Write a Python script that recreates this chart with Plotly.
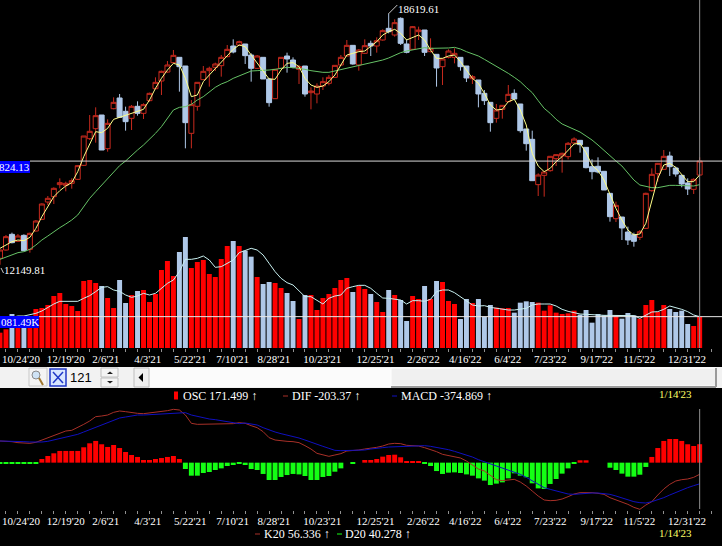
#!/usr/bin/env python3
"""Weekly candles with volume, plus the MACD panel, on a black trading-screen background."""
import plotly.graph_objects as go

W, H = 722, 546

# weekly prices, 5 and 20 period averages
open_ = [12315, 12530, 12934, 12754, 12908, 12547, 13020, 13321, 13768, 13906, 14216, 14198, 14250, 14353, 14714, 15402, 15660, 16013, 15144, 16176,
         16452, 16108, 15927, 16237, 16056, 16383, 16692, 16890, 17122, 17363, 17501, 17277, 15540, 16237, 16925, 17157, 17243, 17286, 17518, 17793,
         17819, 17845, 17561, 17217, 17501, 16942, 16434, 17217, 17535, 17432, 17191, 17277, 16589, 16555, 16761, 16830, 16985, 17303, 17535, 17810,
         17303, 17604, 17862, 17793, 17948, 18249, 18077, 18507, 17845, 17707, 18163, 18206, 17647, 17578, 17260, 17501, 17501, 17501, 17277, 16950,
         16916, 16572, 16340, 15927, 16159, 16357, 16572, 16297, 15652, 15385, 14216, 14456, 14577, 14886, 14955, 14938, 15291, 15359, 15179, 14680,
         14689, 14560, 13992, 13338, 13381, 12994, 12926, 12857, 13089, 14061, 14499, 14611, 14955, 14646, 14456, 14259, 14095, 14465]
close_ = [12530, 12874, 12719, 12891, 12513, 12960, 13278, 13717, 13863, 14121, 14267, 14250, 14319, 14706, 15471, 15592, 15996, 15110, 15798, 16340,
          15953, 15841, 16237, 16056, 16280, 16572, 16856, 17140, 17303, 17552, 17260, 15815, 16280, 16856, 17140, 17217, 17329, 17501, 17707, 17638,
          17905, 17544, 17217, 17535, 16942, 16331, 17191, 17501, 17458, 17243, 17260, 16555, 16632, 16761, 16873, 16985, 17294, 17501, 17810, 17329,
          17690, 17802, 17793, 17931, 18189, 18163, 18395, 17862, 17630, 18292, 18206, 17630, 17733, 17226, 17458, 17664, 17604, 17260, 16968, 17002,
          16555, 16383, 15815, 16142, 16262, 16546, 16426, 15609, 15273, 14319, 14465, 14542, 14947, 14990, 15024, 15282, 15394, 15248, 14654, 14551,
          14542, 14078, 13390, 13682, 13098, 12788, 12754, 13003, 13992, 14482, 14766, 14947, 14680, 14491, 14233, 14104, 14353, 14824.13]
high = [12530, 12917, 12977, 12943, 12934, 12977, 13304, 13734, 13923, 14147, 14379, 14293, 14379, 14723, 15471, 16013, 16211, 16013, 15901, 16469,
        16555, 16228, 16271, 16366, 16314, 16589, 16985, 17157, 17406, 17690, 17501, 17277, 16400, 16856, 17277, 17260, 17363, 17561, 17819, 17965,
        17931, 17845, 17604, 17561, 17501, 16959, 17191, 17501, 17621, 17501, 17303, 17277, 16727, 16830, 16985, 17045, 17303, 17561, 17948, 17810,
        17716, 17965, 17931, 18017, 18223, 18619.61, 18481, 18533, 17965, 18309, 18292, 18206, 17991, 17578, 17475, 17707, 17733, 17501, 17277, 17045,
        16916, 16658, 16340, 16297, 16262, 16787, 16675, 16297, 15652, 15609, 14508, 14560, 14947, 14990, 15041, 15316, 15437, 15359, 15179, 14869,
        14921, 14560, 13992, 13777, 13381, 13132, 12977, 13046, 14009, 14637, 14775, 15110, 15067, 14680, 14456, 14379, 14379, 14921]
low = [12149.81, 12513, 12702, 12736, 12513, 12461, 13003, 13304, 13691, 13717, 14121, 14044, 14112, 14336, 14697, 15368, 15299, 15110, 15067, 16159,
       15936, 15609, 15626, 15996, 15910, 16357, 16675, 16529, 17105, 17346, 16615, 15153, 15153, 16125, 16916, 16744, 17148, 17002, 17501, 17604,
       17793, 17329, 16873, 17200, 16942, 16228, 16434, 17217, 17105, 17217, 16813, 16486, 16159, 16314, 16658, 16778, 16976, 17277, 17518, 17312,
       17157, 17587, 17535, 17621, 17931, 18120, 18034, 17819, 17604, 17690, 17948, 17535, 17630, 16744, 16787, 17475, 17346, 17157, 16864, 16813,
       16211, 16271, 15583, 15815, 15918, 16340, 16400, 15557, 15093, 14319, 13923, 13906, 14551, 14697, 14525, 14869, 15273, 15041, 14637, 14353,
       14508, 14078, 13261, 13252, 12788, 12659, 12616, 12788, 13072, 14035, 14293, 14594, 14439, 14422, 14147, 13949, 13975, 14448]
ma_short = [12573, 12659, 12745, 12788, 12771, 12857, 13089, 13390, 13648, 13906, 14061, 14181, 14267, 14551, 14938, 15282, 15583, 15557, 15669, 15901,
            15953, 15987, 16056, 16108, 16159, 16400, 16701, 16959, 17174, 17346, 17303, 16959, 16486, 16529, 16873, 17045, 17217, 17389, 17561, 17707,
            17819, 17776, 17561, 17346, 17131, 16942, 16933, 17174, 17346, 17363, 17260, 16959, 16787, 16727, 16761, 16873, 17045, 17303, 17561, 17604,
            17647, 17664, 17776, 17905, 18077, 18163, 18223, 18120, 17948, 18017, 18077, 17948, 17690, 17475, 17475, 17535, 17561, 17389, 17174, 16959,
            16830, 16572, 16271, 16142, 16159, 16357, 16417, 16142, 15755, 15024, 14697, 14551, 14637, 14809, 14938, 15093, 15265, 15282, 15041, 14723,
            14577, 14336, 13949, 13605, 13304, 13046, 12917, 12943, 13218, 13777, 14379, 14723, 14766, 14663, 14465, 14293, 14293, 14465]
ma_long = [12289, 12341, 12401, 12461, 12487, 12547, 12659, 12788, 12891, 13003, 13106, 13201, 13304, 13433, 13648, 13863, 14035, 14207, 14379, 14551,
           14706, 14826, 14981, 15110, 15239, 15385, 15540, 15712, 15927, 16142, 16211, 16228, 16288, 16400, 16486, 16615, 16727, 16813, 16873, 16959,
           17019, 17071, 17148, 17157, 17157, 17174, 17191, 17217, 17243, 17234, 17217, 17191, 17157, 17131, 17114, 17114, 17148, 17191, 17217, 17243,
           17277, 17329, 17363, 17398, 17432, 17484, 17561, 17621, 17664, 17690, 17733, 17750, 17733, 17733, 17733, 17742, 17759, 17716, 17647, 17587,
           17535, 17449, 17363, 17277, 17191, 17088, 16985, 16873, 16727, 16589, 16383, 16185, 16056, 15901, 15781, 15712, 15643, 15574, 15471, 15368,
           15239, 15093, 14955, 14826, 14697, 14508, 14336, 14207, 14164, 14138, 14138, 14173, 14198, 14198, 14198, 14190, 14181, 14216]

# weekly volume (thousands) and its average
volume = [529, 644, 1173, 1081, 736, 989, 1346, 1380, 1484, 1794, 1898, 1518, 1449, 1277, 2312, 2346, 2243, 2139, 1725, 1380,
          2346, 1553, 1829, 1967, 2001, 1587, 1863, 2691, 3002, 2484, 3312, 3830, 2760, 2967, 3036, 2553, 2450, 3071, 3519, 3692,
          3519, 3358, 3151, 2450, 2208, 2277, 2243, 2070, 1898, 1622, 1001, 1829, 1829, 1311, 1725, 1863, 2070, 2346, 2415, 1932,
          2139, 2036, 1863, 1587, 1242, 2001, 1829, 1656, 932, 1794, 1691, 2139, 1691, 2312, 2277, 1622, 1518, 1001, 1691, 1553,
          1691, 1081, 1484, 1392, 1369, 1380, 1219, 1564, 1610, 1587, 1564, 1288, 1472, 1219, 1173, 1196, 1288, 1150, 1311, 874,
          1173, 1127, 1311, 1139, 1012, 1208, 1127, 1012, 1484, 1656, 1242, 1484, 1346, 1242, 1288, 828, 759, 1081.49]
volume_ma = [909, 966, 1058, 1104, 1104, 1139, 1196, 1277, 1403, 1518, 1610, 1610, 1599, 1610, 1714, 1806, 1944, 2093, 2116, 2001,
             1955, 1829, 1748, 1794, 1886, 1829, 1886, 2059, 2231, 2346, 2634, 3059, 3059, 3094, 3174, 3036, 2783, 2806, 2921, 3036,
             3289, 3358, 3439, 3381, 3209, 2921, 2634, 2404, 2254, 2174, 1978, 1771, 1771, 1633, 1518, 1714, 1794, 1829, 2059, 2116,
             2162, 2162, 2059, 1886, 1725, 1714, 1679, 1656, 1518, 1633, 1633, 1610, 1679, 1944, 2001, 2001, 1909, 1771, 1622, 1484,
             1449, 1461, 1403, 1369, 1334, 1311, 1311, 1346, 1369, 1484, 1518, 1518, 1518, 1449, 1334, 1265, 1219, 1173, 1162, 1162,
             1139, 1127, 1127, 1139, 1127, 1139, 1116, 1024, 1139, 1242, 1254, 1334, 1449, 1403, 1334, 1254, 1139, 1081]

# MACD panel
osc = [-6, -6, -6, -6, -6, -6, -6, 34, 62, 87, 109, 109, 109, 109, 143, 180, 202, 171, 146, 164,
       136, 99, 71, 53, 25, 25, 34, 43, 53, 62, 34, -59, -121, -121, -96, -87, -68, -53, -31, -22,
       -6, -22, -59, -68, -105, -161, -161, -133, -115, -105, -109, -124, -161, -161, -133, -124, -84, -53, 0, -6,
       0, 25, 25, 34, 56, 71, 74, 50, 12, 12, 12, -6, -31, -78, -105, -93, -90, -96, -109, -121,
       -146, -167, -208, -195, -183, -146, -99, -121, -136, -192, -239, -245, -198, -152, -102, -53, -6, 22, 22, 0,
       0, 0, -47, -68, -102, -130, -130, -112, -40, 53, 136, 202, 220, 220, 202, 171, 155, 171.499]
dif = [396, 396, 384, 366, 360, 354, 372, 414, 462, 492, 546, 576, 588, 636, 696, 756, 834, 846, 864, 912,
       936, 924, 906, 894, 888, 900, 912, 918, 942, 966, 954, 864, 714, 696, 696, 696, 696, 696, 696, 708,
       726, 714, 672, 636, 564, 456, 414, 396, 390, 384, 366, 312, 252, 174, 144, 120, 144, 168, 216, 222,
       234, 252, 264, 282, 306, 342, 354, 348, 318, 318, 306, 276, 246, 204, 156, 132, 114, 90, 36, -36,
       -108, -144, -228, -300, -318, -306, -294, -342, -414, -504, -594, -666, -678, -672, -648, -606, -558, -534, -528, -534,
       -546, -564, -624, -666, -696, -744, -798, -834, -756, -696, -576, -468, -384, -324, -300, -288, -258, -203.37]
macd = [396, 396, 396, 390, 384, 378, 372, 378, 390, 414, 444, 462, 486, 516, 558, 600, 636, 684, 732, 768,
        810, 828, 852, 864, 864, 870, 876, 882, 894, 906, 912, 906, 864, 840, 810, 792, 780, 762, 744, 726,
        708, 720, 702, 684, 636, 594, 558, 528, 504, 480, 450, 414, 372, 336, 300, 264, 228, 222, 222, 222,
        228, 234, 252, 270, 276, 288, 294, 300, 306, 312, 312, 312, 300, 282, 258, 240, 210, 180, 144, 108,
        60, 24, -12, -60, -96, -132, -168, -204, -258, -318, -390, -444, -474, -504, -528, -558, -564, -552, -540, -540,
        -540, -546, -564, -594, -630, -666, -696, -714, -720, -696, -666, -624, -576, -528, -480, -444, -408, -374.869]

tick_labels = ["10/24'20", "12/19'20", "2/6'21", "4/3'21", "5/22'21", "7/10'21", "8/28'21", "10/23'21",
               "12/25'21", "2/26'22", "4/16'22", "6/4'22", "7/23'22", "9/17'22", "11/5'22", "12/31'22"]
tick_at = [3.5, 11, 17.7, 24.7, 31.8, 38.9, 45.8, 53.9, 62.8, 70.8, 77.8, 84.9, 92, 99.8, 106.9, 114.9]

n = len(close_)
weeks = list(range(n))

FONT = "Liberation Serif"
RED = "#FF0000"
PALE = "#AFC8E8"
bar_colors = [RED if c >= o else PALE for o, c in zip(open_, close_)]
osc_colors = [RED if v > 0 else "#14FF14" for v in osc]


def px(x):
    return x / W


def py(y):
    return 1 - y / H


shapes = []
labels = []


def rect(x0, y0, x1, y1, fill, line=None, lw=1):
    shapes.append(dict(type="rect", xref="paper", yref="paper", x0=px(x0), x1=px(x1), y0=py(y0), y1=py(y1),
                       fillcolor=fill, line=dict(color=line or fill, width=lw if line else 0)))


def seg(x0, y0, x1, y1, color, lw=1):
    shapes.append(dict(type="line", xref="paper", yref="paper", x0=px(x0), x1=px(x1), y0=py(y0), y1=py(y1),
                       line=dict(color=color, width=lw)))


def tri(points, color):
    path = "M " + " L ".join(f"{px(a):.5f},{py(b):.5f}" for a, b in points) + " Z"
    shapes.append(dict(type="path", xref="paper", yref="paper", path=path, fillcolor=color, line=dict(width=0)))


def text(x, y, s, color="#FFFFFF", size=12, anchor="left", family=FONT):
    labels.append(dict(xref="paper", yref="paper", x=px(x), y=py(y), text=s, showarrow=False, xanchor=anchor,
                       yanchor="middle", font=dict(family=family, size=size, color=color), borderpad=0, borderwidth=0))


# toolbar between the two panels
rect(0, 367, 722, 388, "#F2F2F2")
rect(149, 368, 391, 387, "#FBFBFB")
rect(391, 368, 716, 386, "#F0F0F0", "#FFFFFF")
seg(391, 387, 716, 387, "#9A9A9A", 2)
seg(716, 368, 716, 387, "#9A9A9A", 2)
rect(29, 368, 47, 386, "#F4F4F4", "#C8C8C8")
shapes.append(dict(type="circle", xref="paper", yref="paper", x0=px(32), x1=px(40), y0=py(371), y1=py(379),
                   fillcolor="#CFE3F5", line=dict(color="#8A8A8A", width=1)))
seg(39, 378, 43, 385, "#A07830", 2)
rect(50, 369, 66, 386, "#D8E6FF", "#2038C8", 1.5)
seg(53, 372, 63, 383, "#2038C8", 1.5)
seg(63, 372, 53, 383, "#2038C8", 1.5)
rect(101, 368, 118, 377, "#F4F4F4", "#C0C0C0")
rect(101, 378, 118, 387, "#F4F4F4", "#C0C0C0")
tri([(107, 374), (113, 374), (110, 371.5)], "#202020")
tri([(107, 381), (113, 381), (110, 383.5)], "#202020")
rect(134, 368, 149, 387, "#F0F0F0", "#BEBEBE")
tri([(143, 373), (143, 382), (138.5, 377.5)], "#000000")
text(70, 377, "121", "#000000", 13, family="Liberation Sans")

# last price and last volume tags on the left edge
rect(0, 161, 30, 173, "#0000FF")
text(30, 167, "824.13", size=11, anchor="right")
rect(0, 316, 39, 328, "#0000FF")
text(39, 322, "081.49K", size=11, anchor="right")

# high and low call-outs
seg(388.3, 14, 397.3, 5, "#C8C8C8")
text(398, 9, "18619.61", size=11)
seg(1, 268, 3.5, 273, "#C8C8C8")
text(4, 270, "12149.81", size=11)

# legends
rect(174, 391.5, 178, 399.5, RED)
text(183, 396, "OSC 171.499 ↑")
seg(283, 396, 288, 396, "#A83028")
text(292, 396, "DIF -203.37 ↑")
seg(392, 396, 397, 396, "#1010C0")
text(401, 396, "MACD -374.869 ↑")
text(659, 394, "1/14'23", "#FFFF66", 11)
seg(255, 534, 260, 534, "#A83028")
text(264, 534, "K20 56.336 ↑")
seg(337, 534, 342, 534, "#14FF14")
text(345, 534, "D20 40.278 ↑")
text(659, 533, "1/14'23", "#FFFF66", 11)

# last price and last volume rules, and the cursor column
shapes.append(dict(type="line", xref="paper", yref="y2", x0=px(30), x1=1, y0=close_[-1], y1=close_[-1],
                   line=dict(color="#D8D8D8", width=1)))
shapes.append(dict(type="line", xref="paper", yref="y", x0=px(39), x1=1, y0=volume[-1], y1=volume[-1],
                   line=dict(color="#E8E8E8", width=1)))
shapes.append(dict(type="line", xref="x", yref="paper", x0=weeks[-1], x1=weeks[-1], y0=py(348), y1=1,
                   line=dict(color="#909090", width=1)))
shapes.append(dict(type="line", xref="x", yref="paper", x0=weeks[-1], x1=weeks[-1], y0=py(509), y1=py(409),
                   line=dict(color="#909090", width=1)))

fig = go.Figure()

fig.add_trace(go.Bar(x=weeks, y=volume, marker=dict(color=bar_colors, line=dict(width=0)), xaxis="x", yaxis="y"))
fig.add_trace(go.Scatter(x=weeks, y=volume_ma, mode="lines", line=dict(color="#C8F0F0", width=1), xaxis="x", yaxis="y"))
fig.add_trace(go.Scatter(x=weeks, y=ma_long, mode="lines", line=dict(color="#66C266", width=1), xaxis="x", yaxis="y2"))
fig.add_trace(go.Scatter(x=weeks, y=ma_short, mode="lines", line=dict(color="#FFFF88", width=1), xaxis="x", yaxis="y2"))
fig.add_trace(go.Candlestick(x=weeks, open=open_, high=high, low=low, close=close_, whiskerwidth=0,
                             increasing=dict(line=dict(color="#C82A1E", width=1), fillcolor="#000000"),
                             decreasing=dict(line=dict(color=PALE, width=1), fillcolor=PALE),
                             xaxis="x", yaxis="y2"))
fig.add_trace(go.Bar(x=weeks, y=osc, marker=dict(color=osc_colors, line=dict(width=0)), xaxis="x2", yaxis="y3"))
fig.add_trace(go.Scatter(x=weeks, y=dif, mode="lines", line=dict(color="#A83028", width=1), xaxis="x2", yaxis="y4"))
fig.add_trace(go.Scatter(x=weeks, y=macd, mode="lines", line=dict(color="#1010C0", width=1), xaxis="x2", yaxis="y4"))

x_common = dict(range=[0, W / 5.98], showgrid=False, zeroline=False, showline=False, rangeslider=dict(visible=False),
                tickmode="array", tickvals=tick_at, ticktext=tick_labels, ticks="outside", ticklen=1,
                tickcolor="rgba(0,0,0,0)", tickfont=dict(family=FONT, size=11, color="#FFFFFF"), tickangle=0,
                minor=dict(ticks="outside", ticklen=3, tickcolor="#909090", tickmode="linear", tick0=1, dtick=2, showgrid=False))
y_hidden = dict(visible=False, showgrid=False, zeroline=False)

fig.update_layout(
    width=W, height=H, margin=dict(l=0, r=0, t=0, b=0), autosize=False,
    paper_bgcolor="#000000", plot_bgcolor="#000000", showlegend=False,
    bargap=0.17, boxgap=0.17, boxgroupgap=0,
    xaxis=dict(x_common, anchor="y", domain=[0, 1]),
    xaxis2=dict(x_common, anchor="y3", domain=[0, 1]),
    yaxis=dict(y_hidden, domain=[py(348), 1], range=[0, 12006]),
    yaxis2=dict(y_hidden, domain=[py(348), 1], range=[10001.6, 18980], overlaying="y"),
    yaxis3=dict(y_hidden, domain=[py(510), py(388)], range=[-440, 694]),
    yaxis4=dict(y_hidden, domain=[py(510), py(388)], range=[-846, 1350], overlaying="y3"),
    shapes=shapes, annotations=labels,
)

fig.write_html("out.html", config=dict(displayModeBar=False), post_script="document.body.style.margin='0';document.body.style.background='#000';")
